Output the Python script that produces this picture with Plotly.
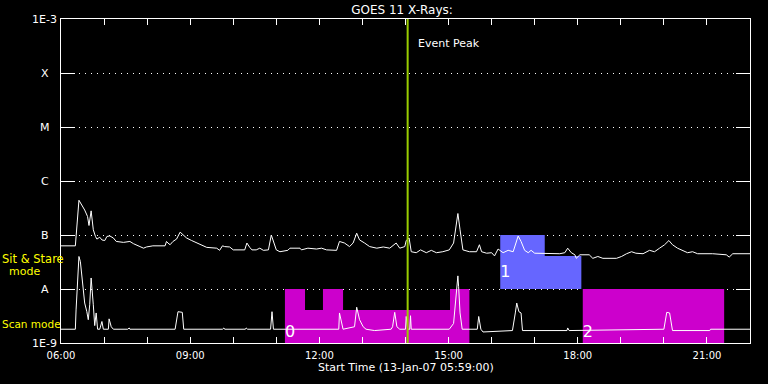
import numpy as np
import pandas as pd
import plotly.graph_objects as go

# ---------------- data ----------------
START = "2007-01-13 06:00"          # axis origin
AXIS_END_MIN = 960                  # 22:00

# GOES 11 long channel (upper curve): minutes after 06:00, flux (W/m^2)
long_min = [0, 20, 25, 29, 33, 37, 39, 42, 45, 48,
            50, 54, 57, 61, 64, 68, 73, 77, 87, 96,
            101, 110, 115, 119, 128, 145, 147, 149, 152, 156,
            161, 166, 170, 175, 182, 193, 203, 217, 221, 225,
            228, 235, 240, 256, 259, 263, 266, 272, 277, 282,
            289, 293, 297, 300, 305, 316, 319, 333, 335, 344,
            356, 363, 370, 384, 388, 395, 402, 407, 412, 416,
            423, 430, 440, 449, 458, 465, 467, 472, 479, 481,
            485, 488, 495, 501, 509, 516, 523, 532, 541, 547,
            551, 553, 556, 560, 569, 579, 583, 586, 593, 600,
            604, 609, 616, 623, 630, 633, 637, 641, 646, 651,
            655, 660, 676, 695, 702, 706, 711, 716, 718, 723,
            736, 741, 748, 755, 774, 781, 788, 795, 801, 811,
            820, 827, 834, 841, 847, 852, 859, 866, 873, 880,
            887, 908, 927, 931, 936, 960]
long_flux = [6.3e-8, 6.3e-8, 4.4e-7, 3.6e-7, 2.9e-7, 2.2e-7, 1.5e-7, 2.8e-7, 1.25e-7, 9.4e-8,
             8.4e-8, 9.1e-8, 8.1e-8, 7.9e-8, 9.4e-8, 9.6e-8, 8.8e-8, 7.6e-8, 7.3e-8, 7.6e-8,
             6.9e-8, 6.1e-8, 5.7e-8, 6.0e-8, 6.3e-8, 6.3e-8, 7.6e-8, 7.1e-8, 6.6e-8, 7.6e-8,
             8.4e-8, 1.13e-7, 1.0e-7, 8.8e-8, 7.9e-8, 6.9e-8, 5.9e-8, 5.7e-8, 5.2e-8, 6.3e-8,
             6.1e-8, 6.0e-8, 5.3e-8, 5.3e-8, 7.1e-8, 5.9e-8, 5.3e-8, 5.3e-8, 5.7e-8, 5.2e-8,
             5.3e-8, 1.0e-7, 7.1e-8, 5.3e-8, 4.9e-8, 5.2e-8, 5.7e-8, 5.7e-8, 5.3e-8, 5.7e-8,
             5.5e-8, 5.7e-8, 5.3e-8, 5.2e-8, 7.6e-8, 7.1e-8, 6.1e-8, 7.1e-8, 1.08e-7, 8.1e-8,
             7.1e-8, 6.1e-8, 5.7e-8, 6.0e-8, 5.7e-8, 6.6e-8, 7.1e-8, 5.7e-8, 6.1e-8, 7.9e-8,
             8.8e-8, 4.9e-8, 4.7e-8, 5.3e-8, 4.7e-8, 5.2e-8, 4.7e-8, 4.9e-8, 5.3e-8, 7.1e-8,
             1.66e-7, 2.5e-7, 1.25e-7, 5.3e-8, 4.9e-8, 4.9e-8, 6.6e-8, 4.9e-8, 4.6e-8, 4.7e-8,
             4.1e-8, 5.5e-8, 4.7e-8, 5.2e-8, 4.9e-8, 6.6e-8, 9.6e-8, 7.6e-8, 5.2e-8, 4.7e-8,
             5.2e-8, 4.6e-8, 4.5e-8, 4.5e-8, 4.7e-8, 5.7e-8, 4.7e-8, 4.3e-8, 3.7e-8, 4.3e-8,
             4.3e-8, 3.7e-8, 4.0e-8, 3.7e-8, 3.7e-8, 4.0e-8, 4.5e-8, 4.9e-8, 4.6e-8, 4.5e-8,
             5.2e-8, 4.9e-8, 5.7e-8, 6.6e-8, 7.9e-8, 6.6e-8, 5.7e-8, 5.2e-8, 4.7e-8, 4.9e-8,
             4.5e-8, 4.5e-8, 4.3e-8, 3.9e-8, 4.5e-8, 4.5e-8]

# GOES 11 short channel (lower curve)
short_min = [0, 20, 21, 25, 27, 29, 31, 33, 36, 38,
             40, 42, 45, 47, 49, 51, 54, 57, 59, 66,
             67, 70, 73, 93, 95, 96, 159, 161, 163, 169,
             171, 225, 227, 228, 257, 258, 260, 292, 293, 294,
             296, 387, 388, 391, 393, 409, 412, 416, 421, 425,
             437, 460, 462, 465, 468, 472, 480, 481, 483, 486,
             487, 488, 541, 547, 551, 553, 554, 556, 559, 580,
             582, 585, 588, 629, 633, 635, 638, 641, 643, 705,
             706, 708, 840, 844, 848, 852, 904, 905, 960]
short_flux = [1.8e-9, 1.8e-9, 4.1e-9, 4.0e-8, 3.2e-8, 1.8e-8, 9.6e-9, 5.5e-9, 3.8e-9, 2.7e-9,
              5.1e-9, 1.6e-8, 5.1e-9, 2.1e-9, 3.6e-9, 1.8e-9, 1.8e-9, 2.5e-9, 1.8e-9, 1.8e-9,
              2.8e-9, 2.0e-9, 1.8e-9, 1.8e-9, 1.9e-9, 1.8e-9, 1.8e-9, 2.7e-9, 3.8e-9, 3.7e-9,
              1.8e-9, 1.8e-9, 1.9e-9, 1.8e-9, 1.8e-9, 1.9e-9, 1.8e-9, 1.8e-9, 2.7e-9, 3.8e-9,
              1.8e-9, 1.8e-9, 3.6e-9, 2.3e-9, 1.8e-9, 2.0e-9, 4.6e-9, 2.7e-9, 2.0e-9, 1.8e-9,
              1.7e-9, 1.8e-9, 2.0e-9, 3.7e-9, 2.0e-9, 1.8e-9, 1.8e-9, 3.1e-9, 1.8e-9, 1.8e-9,
              3.2e-9, 1.8e-9, 1.8e-9, 2.3e-9, 9.6e-9, 1.75e-8, 1.1e-8, 3.6e-9, 1.8e-9, 1.8e-9,
              3.1e-9, 1.8e-9, 1.6e-9, 1.7e-9, 3.6e-9, 5.5e-9, 3.8e-9, 3.6e-9, 1.7e-9, 1.7e-9,
              1.9e-9, 1.7e-9, 1.8e-9, 3.7e-9, 3.6e-9, 1.7e-9, 1.7e-9, 1.8e-9, 1.8e-9]

# Observation blocks (minutes after 06:00 for step edges, flux level of each step)
block0_edges = [312, 340, 365, 393, 542, 569]       # scan mode
block0_levels = [1e-8, 4.1e-9, 1e-8, 4.1e-9, 1e-8]
block1_edges = [612, 674, 725]                      # sit & stare mode
block1_levels = [1e-7, 4.1e-8]
block2_edges = [727, 924]                           # scan mode
block2_levels = [1e-8]
block_labels = ["0", "1", "2"]
block_label_flux = [1.5e-9, 2.0e-8, 1.5e-9]

event_peak_min = 483                                # 14:03

y_tick_values = [1e-9, 1e-8, 1e-7, 1e-6, 1e-5, 1e-4, 1e-3]
y_tick_labels = ["1E-9", "A", "B", "C", "M", "X", "1E-3"]
x_tick_hours = list(range(0, 17))

# ---------------- helpers ----------------
BASE = pd.Timestamp(START)


def t(mins):
    return BASE + pd.to_timedelta(np.asarray(mins, dtype=float), unit="min")


def step_polygon(edges, levels, floor):
    xs = [edges[0]]
    ys = [floor]
    for i, lv in enumerate(levels):
        xs += [edges[i], edges[i + 1]]
        ys += [lv, lv]
    xs += [edges[-1], edges[0]]
    ys += [floor, floor]
    return xs, ys


W, H = 768, 384
L, R, T, B = 61, 750, 19, 343


def px_x(px):
    return (px - L) / (R - L)


def px_y(py):
    return (B - py) / (B - T)


FONT = "DejaVu Sans"
MAGENTA = "#cc00cc"
BLUE = "#6666ff"
GREEN = "#99cc00"
YELLOW = "#ffff00"

fig = go.Figure()

for edges, levels, floor, col in [
    (block0_edges, block0_levels, 1e-9, MAGENTA),
    (block1_edges, block1_levels, 1e-8, BLUE),
    (block2_edges, block2_levels, 1e-9, MAGENTA),
]:
    xs, ys = step_polygon(edges, levels, floor)
    fig.add_trace(go.Scatter(x=t(xs), y=ys, mode="lines", fill="toself",
                             fillcolor=col, line=dict(width=0, color=col),
                             hoverinfo="skip"))

fig.add_trace(go.Scatter(x=t(long_min), y=long_flux, mode="lines",
                         line=dict(color="white", width=1)))
fig.add_trace(go.Scatter(x=t(short_min), y=short_flux, mode="lines",
                         line=dict(color="white", width=1)))

fig.add_trace(go.Scatter(
    x=t([block0_edges[0], block1_edges[0], block2_edges[0]]),
    y=block_label_flux, mode="text", text=block_labels,
    textposition="middle right",
    textfont=dict(family=FONT, size=16, color="white")))

ev = t([event_peak_min])[0]
fig.add_shape(type="line", xref="x", yref="paper", x0=ev, x1=ev, y0=0, y1=1,
              line=dict(color=GREEN, width=2))

annotations = []
for v, lab in zip(y_tick_values, y_tick_labels):
    annotations.append(dict(text=lab, xref="paper", yref="y", x=px_x(44.5),
                            y=np.log10(v), xanchor="center", yanchor="middle",
                            showarrow=False,
                            font=dict(family=FONT, size=11, color="white")))
annotations += [
    dict(text="Event Peak", xref="x", yref="paper", x=ev, xshift=8,
         y=px_y(43), xanchor="left", yanchor="middle", showarrow=False,
         font=dict(family=FONT, size=11, color="white")),
    dict(text="Sit & Stare", xref="paper", yref="paper", x=px_x(0),
         y=px_y(259), xanchor="left", yanchor="middle", showarrow=False,
         font=dict(family=FONT, size=11.5, color=YELLOW)),
    dict(text="mode", xref="paper", yref="paper", x=px_x(24),
         y=px_y(271), xanchor="center", yanchor="middle", showarrow=False,
         font=dict(family=FONT, size=11, color=YELLOW)),
    dict(text="Scan mode", xref="paper", yref="paper", x=px_x(0),
         y=px_y(323.5), xanchor="left", yanchor="middle", showarrow=False,
         font=dict(family=FONT, size=10.5, color=YELLOW)),
    dict(text="Start Time (13-Jan-07 05:59:00)", xref="paper", yref="paper",
         x=px_x(405.5), y=px_y(368), xanchor="center", yanchor="middle",
         showarrow=False, font=dict(family=FONT, size=11, color="white")),
]

fig.update_layout(
    width=W, height=H,
    margin=dict(l=L, r=W - R, t=T, b=H - B, pad=0),
    paper_bgcolor="black", plot_bgcolor="black",
    showlegend=False,
    hovermode=False,
    title=dict(text="GOES 11 X-Rays:", x=402 / W, y=1 - 9.5 / H,
               xanchor="center", yanchor="middle",
               font=dict(family=FONT, size=12, color="white")),
    annotations=annotations,
    xaxis=dict(
        type="date", range=[t([0])[0], t([AXIS_END_MIN])[0]],
        tickvals=t([h * 60 for h in x_tick_hours]),
        ticktext=[(t([h * 60])[0].strftime("%H:%M") if (h % 3 == 0 and h < 16) else "")
                  for h in x_tick_hours],
        ticks="inside", ticklen=6, tickwidth=1, tickcolor="white",
        showline=True, linecolor="white", linewidth=1, mirror="ticks",
        showgrid=False, zeroline=False, ticklabelstandoff=3,
        tickfont=dict(family=FONT, size=10, color="white"),
    ),
    yaxis=dict(
        type="log", range=[-9, -3],
        tickvals=y_tick_values[1:-1],
        showticklabels=False,
        ticks="inside", ticklen=14, tickwidth=1, tickcolor="white",
        showline=True, linecolor="white", linewidth=1, mirror="ticks",
        showgrid=True, gridcolor="white", gridwidth=1, griddash="1px,5px",
        zeroline=False,
    ),
)

fig.write_html(
    "out.html",
    config={"displayModeBar": False, "staticPlot": True},
    post_script="document.body.style.margin='0';document.body.style.background='black';",
)
